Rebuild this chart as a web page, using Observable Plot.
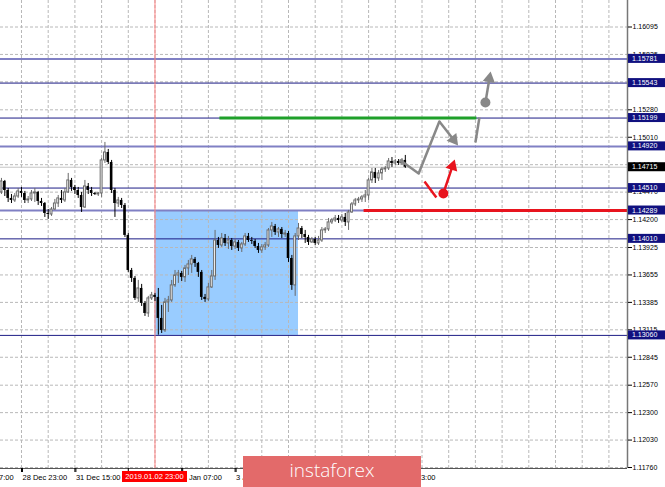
<!DOCTYPE html>
<html><head><meta charset="utf-8">
<script src="https://cdn.jsdelivr.net/npm/d3@7"></script>
<script src="https://cdn.jsdelivr.net/npm/@observablehq/plot@0.6"></script>
<style>
html,body{margin:0;padding:0;background:#fff;}
#chart{width:665px;height:487px;overflow:hidden;}
</style>
</head><body><div id="chart"></div>
<script>
// ---- data (EUR/USD H1 candles, bar index 0 = 28 Dec 23:00) ----
const firstOpen = 1.14467;
const closes = [
1.14575,1.14486,1.14408,1.14388,1.14427,1.14477,1.14457,1.14388,1.14398,1.14457,
1.14467,1.14378,1.14358,1.14260,1.14250,1.14299,1.14358,1.14408,1.14388,1.14467,
1.14585,1.14516,1.14486,1.14437,1.14319,1.14526,1.14486,1.14457,1.14447,1.14457,
1.14782,1.14860,1.14762,1.14486,1.14358,1.14388,1.14339,1.14044,1.13699,1.13621,
1.13424,1.13522,1.13375,1.13276,1.13424,1.13454,1.13434,1.13227,1.13109,1.13385,
1.13404,1.13552,1.13650,1.13670,1.13631,1.13719,1.13758,1.13808,1.13768,1.13680,
1.13434,1.13414,1.13532,1.13640,1.13994,1.13945,1.14014,1.13965,1.13994,1.13935,
1.13975,1.13916,1.13955,1.14034,1.13994,1.13985,1.13935,1.13896,1.13926,1.13945,
1.14093,1.14132,1.14073,1.14103,1.14053,1.14063,1.13817,1.13552,1.14034,1.14112,
1.14053,1.14024,1.13975,1.14004,1.13965,1.13994,1.14093,1.14103,1.14172,1.14191,
1.14211,1.14191,1.14221,1.14172,1.14270,1.14349,1.14388,1.14398,1.14418,1.14437,
1.14585,1.14664,1.14605,1.14654,1.14693,1.14703,1.14772,1.14752,1.14772,1.14752,
1.14782,1.14715];
const highs = [
1.14605,1.14585,1.14506,1.14447,1.14457,1.14506,1.14516,1.14477,1.14427,1.14486,
1.14506,1.14477,1.14408,1.14368,1.14299,1.14319,1.14398,1.14437,1.14486,1.14506,
1.14654,1.14605,1.14536,1.14516,1.14467,1.14585,1.14555,1.14516,1.14467,1.14467,
1.14801,1.14959,1.14890,1.14782,1.14506,1.14418,1.14408,1.14358,1.14063,1.13719,
1.13640,1.13601,1.13562,1.13394,1.13444,1.13483,1.13473,1.13522,1.13355,1.13424,
1.13444,1.13601,1.13699,1.13699,1.13689,1.13749,1.13798,1.13847,1.13827,1.13778,
1.13699,1.13463,1.13572,1.13699,1.14093,1.14024,1.14063,1.14053,1.14034,1.14014,
1.14004,1.13994,1.13975,1.14063,1.14063,1.14024,1.14004,1.13965,1.13955,1.13975,
1.14112,1.14172,1.14152,1.14122,1.14122,1.14093,1.14083,1.13847,1.14063,1.14162,
1.14132,1.14093,1.14044,1.14024,1.14024,1.14034,1.14122,1.14122,1.14211,1.14211,
1.14240,1.14240,1.14250,1.14260,1.14290,1.14368,1.14408,1.14418,1.14437,1.14486,
1.14605,1.14703,1.14703,1.14683,1.14713,1.14723,1.14801,1.14811,1.14791,1.14791,
1.14801,1.14831];
const lows = [
1.14447,1.14427,1.14368,1.14358,1.14368,1.14408,1.14418,1.14358,1.14358,1.14378,
1.14368,1.14339,1.14329,1.14221,1.14201,1.14231,1.14290,1.14319,1.14358,1.14368,
1.14457,1.14477,1.14447,1.14408,1.14270,1.14309,1.14447,1.14427,1.14437,1.14427,
1.14418,1.14752,1.14742,1.14457,1.14221,1.14319,1.14309,1.14024,1.13680,1.13581,
1.13404,1.13385,1.13345,1.13247,1.13237,1.13404,1.13394,1.13062,1.13079,1.13089,
1.13286,1.13385,1.13532,1.13572,1.13591,1.13581,1.13650,1.13670,1.13729,1.13631,
1.13404,1.13385,1.13394,1.13522,1.13601,1.13916,1.13926,1.13935,1.13906,1.13896,
1.13906,1.13886,1.13876,1.13935,1.13975,1.13955,1.13916,1.13867,1.13867,1.13896,
1.13926,1.14024,1.14044,1.14024,1.14014,1.14024,1.13778,1.13503,1.13444,1.13994,
1.14014,1.13965,1.13945,1.13965,1.13945,1.13945,1.13975,1.14063,1.14083,1.14152,
1.14172,1.14162,1.14172,1.14132,1.14093,1.14260,1.14329,1.14358,1.14368,1.14368,
1.14388,1.14555,1.14555,1.14575,1.14585,1.14664,1.14683,1.14713,1.14732,1.14732,
1.14732,1.14703];
const firstBar = -6;

const yTicks = [1.16095,1.15825,1.15555,1.15280,1.15010,1.14740,1.14470,1.14200,1.13925,
  1.13655,1.13385,1.13115,1.12845,1.12570,1.12300,1.12030,1.11760];
const xTickBars = [-16,0,16,32,48,64,80,96,112];
// labels that the reference shows (the others sit under the marker label and the watermark)
const xLabelBars = [-16,0,16,48,64,112];
const xLabels = ["28 Dec 07:00","28 Dec 23:00","31 Dec 15:00","3 Jan 07:00","3 Jan 23:00","7 Jan 23:00"];

const darkLevels = [1.15543,1.15199,1.14510,1.14010,1.13060];
const lightLevels = [1.15781,1.14920,1.14289];
const bidPrice = 1.14715;
const markerBar = 40;
const markerLabel = "2019.01.02 23:00";
const zone = [{from:40, to:83, low:1.13060, high:1.14289}];
const targetLine = [{from:59.3, to:136.3, price:1.15199}];
const stopLine = [{from:102.5, price:1.14289}];
const grayPath = [{i:113.6,p:1.14781},{i:119.0,p:1.14653},{i:125.2,p:1.15165}];
const graySeg = [{i1:136.0,p1:1.14958,i2:137.2,p2:1.15204}];
const grayDot = [{i:139.0,p:1.15352}];
const grayArrows = [{i1:125.2,p1:1.15165,i2:130.6,p2:1.14939},{i1:139.0,p1:1.15352,i2:140.5,p2:1.15647}];
const redSeg = [{i1:120.75,p1:1.14575,i2:124.3,p2:1.14417}];
const redDot = [{i:126.4,p:1.14457}];
const redArrows = [{i1:126.4,p1:1.14457,i2:129.7,p2:1.14781}];

// ---- build ----
const candles = closes.map((c,k)=>({i:firstBar+k, o:k?closes[k-1]:firstOpen, c, h:highs[k], l:lows[k]}));
const bull = candles.filter(d=>d.c>=d.o), bear = candles.filter(d=>d.c<d.o);
const X0 = -6.29, X1 = 181.57, Y0 = 1.117502, Y1 = 1.163558;
const W = 665, H = 487, mR = 38, mB = 19;
const kx = (W-mR)/(X1-X0), ky = (H-mB)/(Y1-Y0);   // px per data unit, for arrowhead orientation
function heads(arrows) {
  return arrows.map(a => {
    const dx = (a.i2-a.i1)*kx, dy = (a.p2-a.p1)*ky, len = Math.hypot(dx,dy);
    const back = 6;
    return {i: a.i2 - dx/len*back/kx, p: a.p2 - dy/len*back/ky, rot: Math.atan2(dx,dy)*180/Math.PI,
            i1:a.i1, p1:a.p1};
  });
}
const grayHeads = heads(grayArrows), redHeads = heads(redArrows);
const gridBars = d3.range(0, 184, 8);
const font = "'Liberation Sans', Arial, sans-serif";

const chart = Plot.plot({
  width:W, height:H, marginLeft:0, marginRight:mR, marginTop:0, marginBottom:mB,
  x:{domain:[X0,X1], axis:null}, y:{domain:[Y0,Y1], axis:null},
  style:{background:"#fff", fontFamily:font, fontSize:"7px", color:"#000", overflow:"visible"},
  marks:[
    Plot.rect(zone,{x1:"from",x2:"to",y1:"low",y2:"high",fill:"#99ccff"}),
    Plot.gridX(gridBars,{stroke:"#b8b8b8",strokeOpacity:1,strokeDasharray:"3,2"}),
    Plot.gridY(yTicks,{stroke:"#b8b8b8",strokeOpacity:1,strokeDasharray:"3,2"}),
    Plot.ruleY(lightLevels,{stroke:"#8080c4",strokeWidth:2}),
    Plot.ruleY(darkLevels,{stroke:"#1c1c86",strokeWidth:1}),
    Plot.ruleY([bidPrice],{stroke:"#c4c4c4"}),
    Plot.ruleX([markerBar],{stroke:"#ff7f7f"}),
    Plot.ruleX(bear,{x:"i",y1:"l",y2:"h",stroke:"#000",strokeWidth:1}),
    Plot.ruleX(bull,{x:"i",y1:"l",y2:"h",stroke:"#6a6a6a",strokeWidth:1}),
    Plot.rect(bear,{x1:d=>d.i-0.38,x2:d=>d.i+0.38,y1:"o",y2:"c",fill:"#000"}),
    Plot.rect(bull,{x1:d=>d.i-0.28,x2:d=>d.i+0.28,y1:"o",y2:"c",fill:"#fff",stroke:"#6a6a6a",strokeWidth:1}),
    Plot.link(targetLine,{x1:"from",x2:"to",y1:"price",y2:"price",stroke:"#1fa02a",strokeWidth:3}),
    Plot.link(stopLine,{x1:"from",x2:()=>X1,y1:"price",y2:"price",stroke:"#e8141e",strokeWidth:3}),
    Plot.line(grayPath,{x:"i",y:"p",stroke:"#888",strokeWidth:2.5}),
    Plot.link(graySeg,{x1:"i1",y1:"p1",x2:"i2",y2:"p2",stroke:"#888",strokeWidth:2.5}),
    Plot.link(grayHeads,{x1:"i1",y1:"p1",x2:"i",y2:"p",stroke:"#888",strokeWidth:2.5}),
    Plot.dot(grayHeads,{x:"i",y:"p",symbol:"triangle",r:4.6,rotate:"rot",fill:"#888"}),
    Plot.dot(grayDot,{x:"i",y:"p",r:5,fill:"#888"}),
    Plot.link(redSeg,{x1:"i1",y1:"p1",x2:"i2",y2:"p2",stroke:"#e8141e",strokeWidth:2.5}),
    Plot.link(redHeads,{x1:"i1",y1:"p1",x2:"i",y2:"p",stroke:"#e8141e",strokeWidth:2.5}),
    Plot.dot(redHeads,{x:"i",y:"p",symbol:"triangle",r:4.6,rotate:"rot",fill:"#e8141e"}),
    Plot.dot(redDot,{x:"i",y:"p",r:5,fill:"#e8141e"}),
    Plot.ruleY([Y0],{stroke:"#555"}),
    Plot.ruleX([X1],{stroke:"#777",strokeWidth:1.5}),
    Plot.axisY(yTicks,{anchor:"right",tickSize:4,tickPadding:1,tickFormat:d=>d.toFixed(5),label:null,fontSize:7,fontFamily:font}),
    Plot.axisX(xTickBars,{anchor:"bottom",tickSize:4,text:null,label:null}),
    Plot.axisX(xLabelBars,{anchor:"bottom",tickSize:4,tickPadding:2,tickFormat:d=>xLabels[xLabelBars.indexOf(d)],textAnchor:"start",dx:1,label:null,fontSize:7.5,fontFamily:font})
  ]
});
document.getElementById("chart").appendChild(chart);

// price label boxes on the right axis and the marker label, placed with Plot's scales
const sx = chart.scale("x"), sy = chart.scale("y");
const svg = d3.select(chart);
const right = sx.apply(X1);
const bottom = sy.apply(Y0);
const g = svg.append("g").attr("font-family", font).attr("font-size", 7).attr("text-anchor","start");
const boxes = [...lightLevels.map(v=>[v,"#10107f"]), ...darkLevels.map(v=>[v,"#10107f"]), [bidPrice,"#000"]];
for (const [v, fill] of boxes) {
  const y = sy.apply(v);
  g.append("rect").attr("x", right+1).attr("y", y-4.5).attr("width", 37).attr("height", 9).attr("fill", fill);
  g.append("text").attr("x", right+5).attr("y", y).attr("dy", "0.36em").attr("text-anchor","start")
    .attr("fill", "#fff").text(v.toFixed(5));
}
const mx = sx.apply(markerBar);
g.append("rect").attr("x", mx-32.5).attr("y", bottom+3).attr("width", 65).attr("height", 11).attr("fill", "#ff0000");
g.append("text").attr("x", mx).attr("y", bottom+8.5).attr("dy","0.36em").attr("text-anchor","middle")
  .attr("fill","#fff").attr("font-size",7.5).text(markerLabel);

// watermark
const wm = svg.append("g");
wm.append("rect").attr("x", 243).attr("y", 456).attr("width", 178).attr("height", 31).attr("fill", "#e36a6a");
wm.append("text").attr("x", 332).attr("y", 477).attr("text-anchor","middle").attr("fill","#fff")
  .attr("font-family","'Open Sans', sans-serif").attr("font-weight",300).attr("font-size",19).text("instaforex");
</script>
</body></html>
